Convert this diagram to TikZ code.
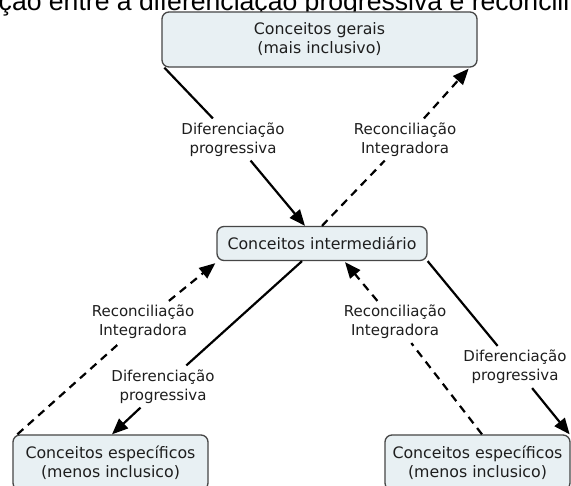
\documentclass[tikz,border=0pt]{standalone}
\usepackage{fontspec}
\setmainfont{DejaVu Sans}
\newfontfamily\titlefont{Liberation Sans}
\usetikzlibrary{arrows.meta,calc}
\definecolor{boxfill}{RGB}{232,240,243}
\definecolor{boxline}{RGB}{70,70,70}
\definecolor{txt}{RGB}{30,30,30}
\tikzset{
  concept/.style={draw=boxline, line width=1.3pt, fill=boxfill, rounded corners=7pt,
    align=center, text=txt, font=\fontsize{15.8}{19}\selectfont, inner sep=0pt},
  linklabel/.style={align=center, text=txt, font=\fontsize{15}{19}\selectfont, inner sep=4pt},
  conn/.style={line width=2.2pt, black},
  bigtip/.style={-{Triangle[length=16pt,width=13pt]}},
  tipconn/.style={conn, bigtip},
  dashconn/.style={conn, dash pattern=on 8pt off 6pt},
}
\begin{document}
\begin{tikzpicture}[x=1pt,y=-1pt]
\useasboundingbox (0,0) rectangle (571,486);
\fill[white] (0,0) rectangle (571,486);
\clip (0,0) rectangle (571,486);

\node[anchor=base west, inner sep=0pt, font=\titlefont\fontsize{26.6}{32}\selectfont] (title) at (-1.5,10.5)
  {ção entre a diferenciação progressiva e reconcili};

% concept boxes
\node[concept, minimum width=315pt, minimum height=55pt] (top) at (319.5,39.5)
  {Conceitos gerais\\(mais inclusivo)};
\node[concept, minimum width=210pt, minimum height=34pt] (mid) at (322,243.5)
  {Conceitos intermediário};
\node[concept, minimum width=195pt, minimum height=55pt] (bl) at (110.5,462.5)
  {Conceitos específicos\\(menos inclusico)};
\node[concept, minimum width=185pt, minimum height=55pt] (br) at (477.5,462.5)
  {Conceitos específicos\\(menos inclusico)};

% link labels
\node[linklabel] (lA) at (233,139.5) {Diferenciação\\progressiva};
\node[linklabel] (lB) at (405,139.5) {Reconciliação\\Integradora};
\node[linklabel] (lC) at (143,322) {Reconciliação\\Integradora};
\node[linklabel] (lD) at (163,386.5) {Diferenciação\\progressiva};
\node[linklabel] (lE) at (395,322) {Reconciliação\\Integradora};
\node[linklabel] (lF) at (515,367) {Diferenciação\\progressiva};

% connectors
\draw[conn] ($(top.south west)+(3,0)$) -- (lA);
\draw[tipconn] (lA) -- ($(mid.north)+(-17,0)$);

\draw[dashconn] (mid.north) -- (lB);
\draw[dashconn, bigtip] (lB) -- ($(top.south east)+(-9,1)$);

\draw[dashconn] ($(bl.north west)+(5,0)$) -- (lC);
\draw[dashconn, bigtip] (lC) -- ($(mid.south west)+(-1,2)$);

\draw[conn] ($(mid.south)+(-20,0)$) -- (lD);
\draw[tipconn] (lD) -- ($(bl.north)+(1.5,0)$);

\draw[dashconn] ($(br.north)+(4.5,0)$) -- (lE);
\draw[dashconn, bigtip] (lE) -- ($(mid.south)+(23,1)$);

\draw[conn] (mid.south east) -- (lF);
\draw[tipconn] (lF) -- ($(br.north east)+(-1,0)$);
\end{tikzpicture}
\end{document}
